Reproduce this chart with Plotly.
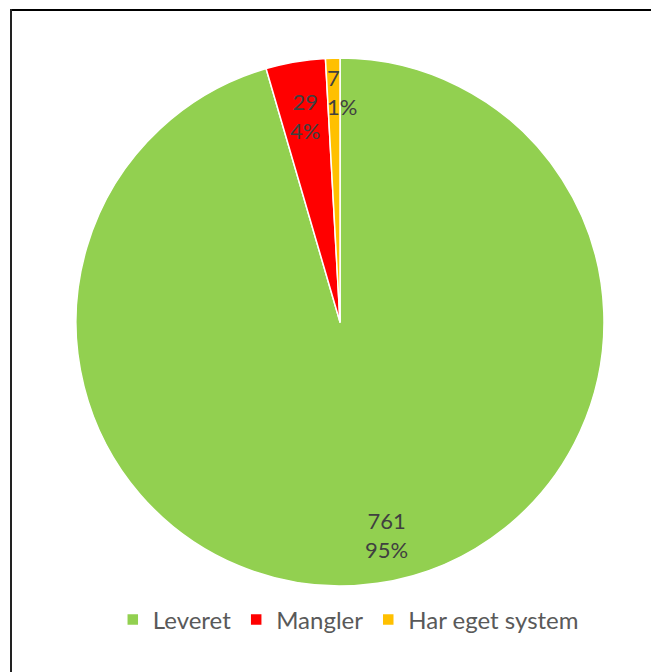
import math
import plotly.graph_objects as go

# Data
categories = ["Leveret", "Mangler", "Har eget system"]
values = [761, 29, 7]
percent_labels = ["95%", "4%", "1%"]

# Styles
colors = ["#92D050", "#FF0000", "#FFC000"]
label_radius_frac = [0.83, 0.79, 0.87]
label_xshift = [16, 0, 8]
label_yshift = [4, 0, 0]
label_align = ["center", "center", "left"]

W, H = 651, 672
CX, CY, R = 340, 322, 264  # pixel centre / radius of the pie

dom_x = [(CX - R) / W, (CX + R) / W]
dom_y = [(H - CY - R) / H, (H - CY + R) / H]

FONT = "Lato, Carlito, Calibri, sans-serif"

fig = go.Figure(
    go.Pie(
        labels=categories,
        values=values,
        marker=dict(colors=colors, line=dict(color="white", width=1.5)),
        sort=False,
        direction="clockwise",
        rotation=0,
        textinfo="none",
        hoverinfo="label+value+percent",
        domain=dict(x=dom_x, y=dom_y),
    )
)

# Data labels, positioned at each slice's mid angle
total = sum(values)
cum = 0
annotations = []
for i, v in enumerate(values):
    mid = (cum + v / 2) / total * 2 * math.pi
    cum += v
    rr = R * label_radius_frac[i]
    px = CX + rr * math.sin(mid)
    py = CY - rr * math.cos(mid)
    annotations.append(
        dict(
            x=px / W,
            y=1 - py / H,
            xref="paper",
            yref="paper",
            xanchor="center",
            yanchor="middle",
            xshift=label_xshift[i],
            yshift=label_yshift[i],
            text=f"{v}<br>{percent_labels[i]}",
            showarrow=False,
            font=dict(family=FONT, size=22, color="#404040"),
            align=label_align[i],
        )
    )

fig.update_layout(
    width=W,
    height=H,
    margin=dict(l=0, r=0, t=0, b=0),
    paper_bgcolor="white",
    plot_bgcolor="white",
    showlegend=True,
    legend=dict(
        orientation="h",
        x=0.535,
        xanchor="center",
        y=(H - 620) / H,
        yanchor="middle",
        font=dict(family=FONT, size=24, color="#595959"),
        bgcolor="rgba(0,0,0,0)",
    ),
    annotations=annotations,
    shapes=[
        dict(type="line", xref="paper", yref="paper", x0=10 / W, x1=1, y0=1 - 10 / H, y1=1 - 10 / H,
             line=dict(color="black", width=2)),
        dict(type="line", xref="paper", yref="paper", x0=11 / W, x1=11 / W, y0=1 - 9 / H, y1=0,
             line=dict(color="#222222", width=2)),
    ],
)

fig.write_html(
    "out.html",
    config={"displayModeBar": False},
    post_script="document.body.style.margin='0';document.body.style.overflow='hidden';",
)
